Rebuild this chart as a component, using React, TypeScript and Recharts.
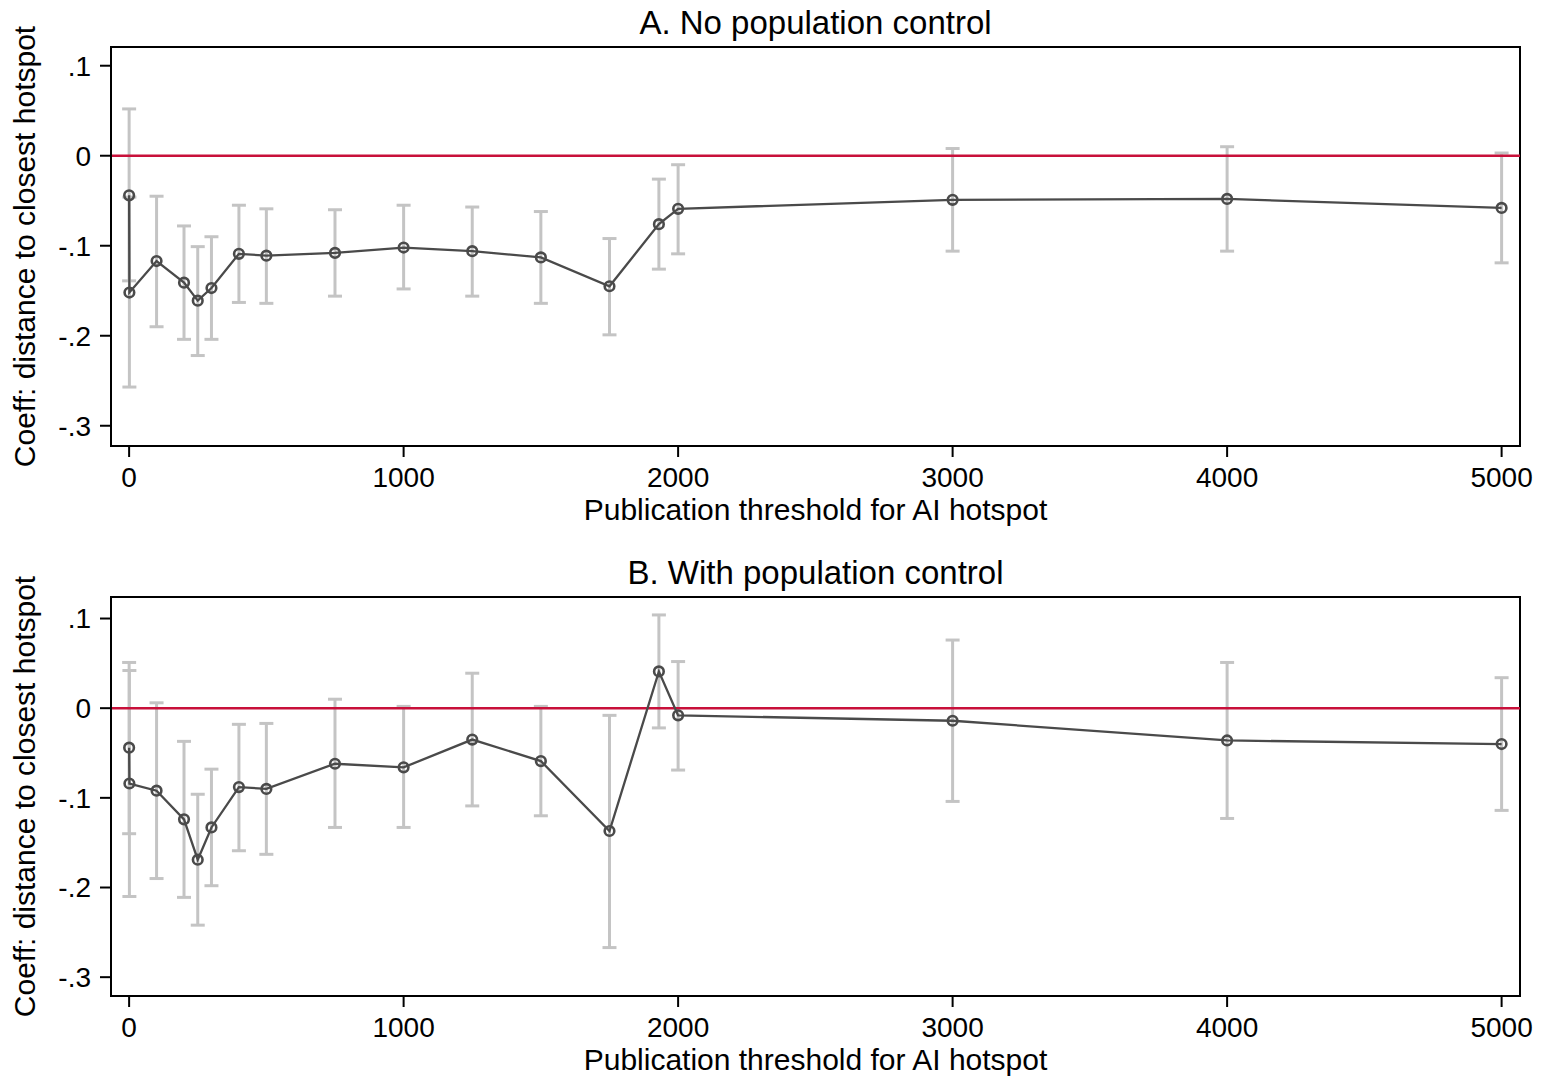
import React from "react";
import { ComposedChart, Line, Scatter, ErrorBar, XAxis, YAxis, ReferenceLine, ReferenceArea } from "recharts";

// publication thresholds (two estimates sit at 0)
const thresholds = [0, 1, 100, 200, 250, 300, 400, 500, 750, 1000, 1250, 1500, 1750, 1930, 2000, 3000, 4000, 5000];

// panel A: no population control
const coefA = [-0.044, -0.152, -0.117, -0.141, -0.161, -0.147, -0.109, -0.111, -0.108, -0.102, -0.106, -0.113, -0.145, -0.076, -0.059, -0.049, -0.048, -0.058];
const lowA = [-0.139, -0.257, -0.19, -0.204, -0.222, -0.204, -0.163, -0.164, -0.156, -0.148, -0.156, -0.164, -0.199, -0.126, -0.109, -0.106, -0.106, -0.119];
const highA = [0.052, -0.046, -0.045, -0.078, -0.101, -0.09, -0.055, -0.059, -0.06, -0.055, -0.057, -0.062, -0.092, -0.026, -0.01, 0.008, 0.01, 0.003];

// panel B: with population control
const coefB = [-0.044, -0.084, -0.092, -0.124, -0.169, -0.133, -0.088, -0.09, -0.062, -0.066, -0.035, -0.059, -0.137, 0.041, -0.008, -0.014, -0.036, -0.04];
const lowB = [-0.14, -0.21, -0.19, -0.211, -0.242, -0.198, -0.159, -0.163, -0.133, -0.133, -0.109, -0.12, -0.267, -0.022, -0.069, -0.104, -0.123, -0.114];
const highB = [0.051, 0.042, 0.006, -0.037, -0.096, -0.068, -0.018, -0.017, 0.01, 0.002, 0.039, 0.002, -0.008, 0.104, 0.052, 0.076, 0.051, 0.034];

const xTicks = [0, 1000, 2000, 3000, 4000, 5000];
const yTicks = [-0.3, -0.2, -0.1, 0, 0.1];

const FONT = "'Liberation Sans', Arial, Helvetica, sans-serif";
const X_DOMAIN: [number, number] = [-66, 5067];

const fmtY = (v: number) => (v === 0 ? "0" : v.toFixed(1).replace("0.", "."));

function buildRows(coef: number[], low: number[], high: number[]) {
  return thresholds.map((x, i) => ({
    x,
    coef: coef[i],
    err: [coef[i] - low[i], high[i] - coef[i]],
  }));
}

function Panel({
  title,
  top,
  height,
  axisHeight,
  labelOffset,
  yDomain,
  coef,
  low,
  high,
}: {
  title: string;
  top: number;
  height: number;
  axisHeight: number;
  labelOffset: number;
  yDomain: [number, number];
  coef: number[];
  low: number[];
  high: number[];
}) {
  const data = buildRows(coef, low, high);
  const axisStroke = { stroke: "#000", strokeWidth: 2 };
  return (
    <div style={{ position: "absolute", left: 0, top, width: 1550, height }}>
      <div
        style={{
          position: "absolute",
          left: 111,
          width: 1409,
          top: 6,
          textAlign: "center",
          fontFamily: FONT,
          fontSize: 33,
          lineHeight: "34px",
          color: "#000",
        }}
      >
        {title}
      </div>
      <ComposedChart width={1550} height={height} data={data} margin={{ top: 47, right: 30, bottom: 0, left: 0 }}>
        <XAxis
          dataKey="x"
          type="number"
          domain={X_DOMAIN}
          ticks={xTicks}
          allowDataOverflow
          height={axisHeight}
          tickSize={11}
          tickMargin={10}
          axisLine={axisStroke}
          tickLine={axisStroke}
          tick={{ fill: "#000", fontSize: 28, fontFamily: FONT }}
          label={{
            value: "Publication threshold for AI hotspot",
            position: "insideBottom",
            offset: labelOffset,
            fill: "#000",
            fontSize: 30,
            fontFamily: FONT,
          }}
        />
        <YAxis
          type="number"
          domain={yDomain}
          ticks={yTicks}
          allowDataOverflow
          width={111}
          tickSize={11}
          tickMargin={9}
          tickFormatter={fmtY}
          axisLine={axisStroke}
          tickLine={axisStroke}
          tick={{ fill: "#000", fontSize: 28, fontFamily: FONT }}
          label={{
            value: "Coeff: distance to closest hotspot",
            position: "insideLeft",
            angle: -90,
            offset: 24,
            fill: "#000",
            fontSize: 30,
            fontFamily: FONT,
            style: { textAnchor: "middle" },
          }}
        />
        <ReferenceArea
          x1={X_DOMAIN[0]}
          x2={X_DOMAIN[1]}
          y1={yDomain[0]}
          y2={yDomain[1]}
          fill="none"
          fillOpacity={0}
          stroke="#000"
          strokeWidth={2}
          ifOverflow="visible"
        />
        <Scatter dataKey="coef" isAnimationActive={false} shape={() => <g />}>
          <ErrorBar dataKey="err" direction="y" width={7} stroke="#c4c4c4" strokeWidth={3} isAnimationActive={false} />
        </Scatter>
        <ReferenceLine y={0} stroke="#c8103a" strokeWidth={2.5} />
        <Line
          dataKey="coef"
          type="linear"
          stroke="#4a4a4a"
          strokeWidth={2.3}
          dot={{ r: 4.8, stroke: "#4a4a4a", strokeWidth: 2.6, fill: "none" }}
          activeDot={false}
          isAnimationActive={false}
        />
      </ComposedChart>
    </div>
  );
}

export default function App() {
  return (
    <div style={{ position: "absolute", left: 0, top: 0, width: 1550, height: 1080, background: "#fff", overflow: "hidden" }}>
      <Panel
        title="A. No population control"
        top={0}
        height={540}
        axisHeight={94}
        labelOffset={20}
        yDomain={[-0.3225, 0.1208]}
        coef={coefA}
        low={lowA}
        high={highA}
      />
      <Panel
        title="B. With population control"
        top={550}
        height={530}
        axisHeight={84}
        labelOffset={10}
        yDomain={[-0.321, 0.124]}
        coef={coefB}
        low={lowB}
        high={highB}
      />
    </div>
  );
}
